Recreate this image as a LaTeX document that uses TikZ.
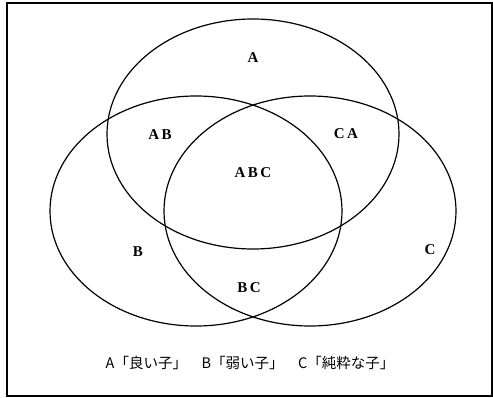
\documentclass[tikz,border=0pt]{standalone}
\usepackage{fontspec}
\setmainfont{Liberation Serif}
\newfontfamily\jpfont{Noto Sans CJK JP}
\usetikzlibrary{shapes.geometric}
\tikzset{
  setring/.style={draw, ellipse, line width=1.2pt, minimum width=292pt, minimum height=230pt, inner sep=0pt},
  region/.style={font=\fontsize{15}{15}\selectfont\bfseries, inner sep=1pt},
  legend/.style={font=\fontsize{14.5}{14.5}\selectfont\jpfont, inner sep=1pt},
  frame/.style={line width=1.4pt},
}

\begin{document}
\begin{tikzpicture}[x=1pt, y=-1pt]
    \useasboundingbox (0,0) rectangle (493,398);
    \draw[frame] (7,3) rectangle (492,396);
    \node[setring] (ringa) at (253,134) {};
    \node[setring] (ringb) at (196,211) {};
    \node[setring] (ringc) at (310,211) {};
    \node[region] (laba) at (253,58) {A};
    \node[region] (labab) at (160,135) {A\,B};
    \node[region] (labca) at (346,134) {C\,A};
    \node[region] (lababc) at (253,173) {A\,B\,C};
    \node[region] (labb) at (138,252) {B};
    \node[region] (labc) at (430,250) {C};
    \node[region] (labbc) at (249,288) {B\,C};
    \node[legend] (key) at (250,363) {A「良い子」\quad B「弱い子」\quad C「純粋な子」};
  \end{tikzpicture}
\end{document}
